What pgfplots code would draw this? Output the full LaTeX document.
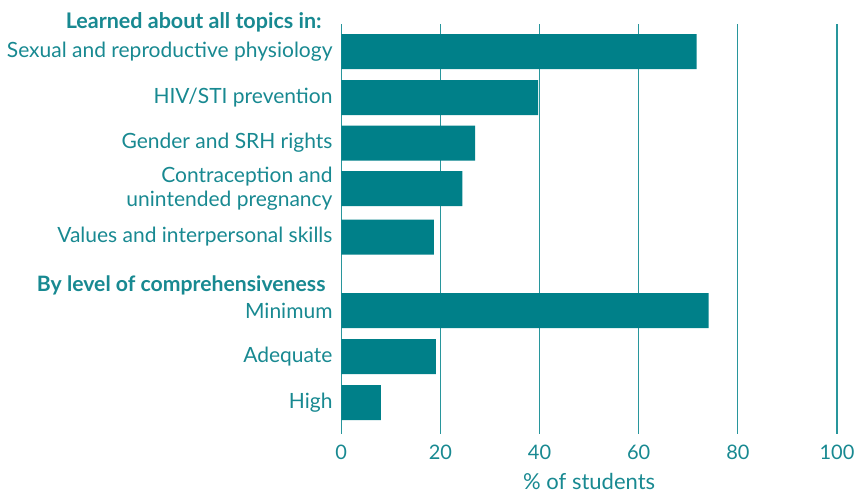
\documentclass[border=0pt]{standalone}
\usepackage{pgfplots}
\pgfplotsset{compat=1.18}
\usepackage{fontspec}
\setmainfont{Lato}
\definecolor{barteal}{RGB}{0,128,137}
\definecolor{txtteal}{RGB}{24,137,145}
\definecolor{gridteal}{RGB}{40,150,156}
\begin{document}
\begin{tikzpicture}
\begin{axis}[
  scale only axis,
  width=247.85pt, height=205pt,
  xmin=0, xmax=100,
  ymin=24, ymax=434,
  y dir=reverse,
  xbar, bar width=35,
  axis line style={draw=none},
  xtick={0,20,40,60,80,100},
  xmajorgrids,
  grid style={gridteal, line width=0.6pt},
  major tick length=0pt,
  ytick={51.5,97.5,143,188.5,237,310.5,356.5,402.5},
  yticklabels={Sexual and reproductive physiology, HIV/STI prevention, Gender and SRH rights, {Contraception and\\unintended pregnancy}, Values and interpersonal skills, Minimum, Adequate, High},
  yticklabel style={align=right, font=\fontsize{10.5}{12}\selectfont, text=txtteal, inner sep=0pt, xshift=-4.2pt},
  xticklabel style={font=\fontsize{10}{12}\selectfont, text=txtteal, anchor=center, yshift=-9pt},
  /pgf/number format/assume math mode=true,
  xlabel={\% of students},
  xlabel style={font=\fontsize{11}{13}\selectfont, text=txtteal, at={(axis description cs:0.5,0)}, anchor=center, yshift=-23.5pt},
  clip=false,
]
\addplot[fill=barteal, draw=none] coordinates {
  (71.7,51.5) (39.7,97.5) (27.0,143) (24.4,188.5) (18.7,237)
  (74.1,310.5) (19.1,356.5) (8.0,402.5)
};
\node[anchor=east, font=\bfseries\fontsize{10.75}{12}\selectfont, text=txtteal, inner sep=0pt] at (axis cs:-3.9,22) {Learned about all topics in:};
\node[anchor=east, font=\bfseries\fontsize{10.6}{12}\selectfont, text=txtteal, inner sep=0pt] at (axis cs:-3.1,285) {By level of comprehensiveness};
\end{axis}
\pgfresetboundingbox
\path ([xshift=-170.65pt, yshift=12pt]current axis.north west) rectangle ([xshift=8.5pt, yshift=-29.5pt]current axis.south east);
\end{tikzpicture}
\end{document}
